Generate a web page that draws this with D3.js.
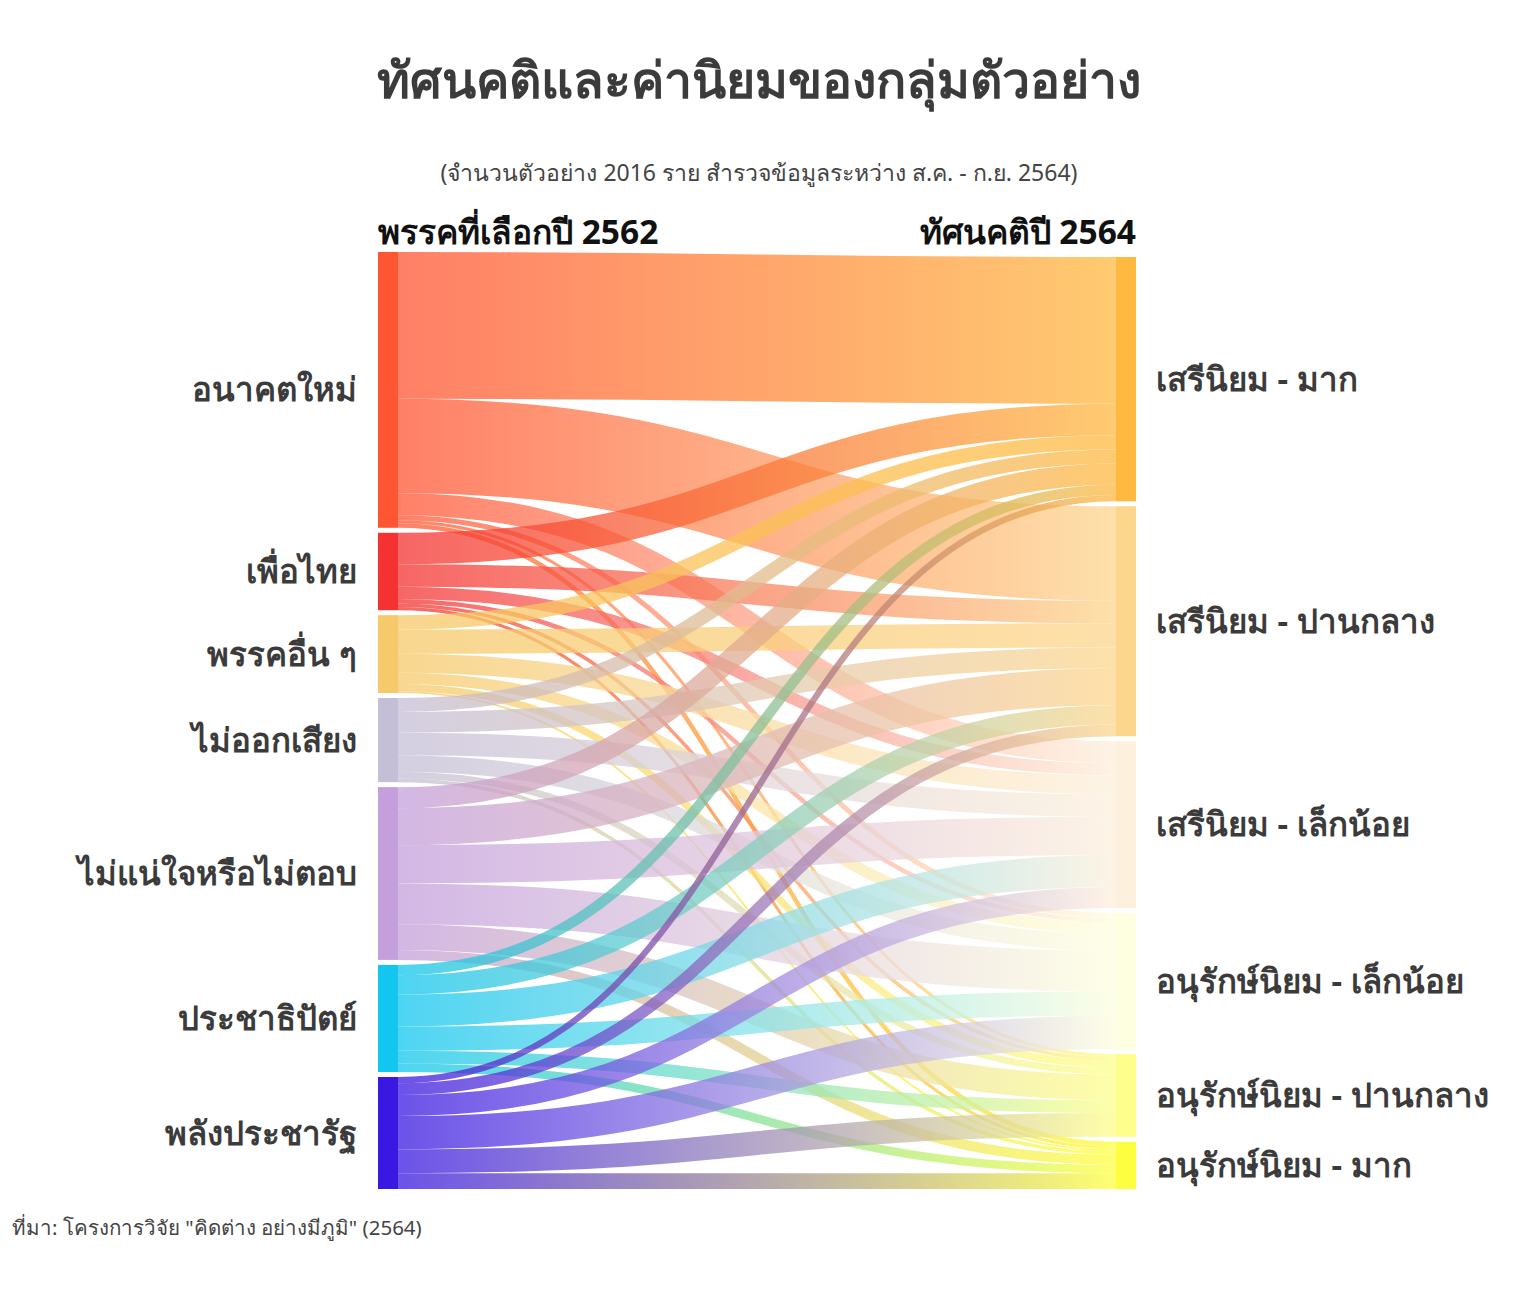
<!DOCTYPE html>
<html>
<head>
<meta charset="utf-8">
<script src="https://cdn.jsdelivr.net/npm/d3@7"></script>
<style>
  body { margin: 0; background: #fff; }
  text { font-family: "Noto Sans", "Open Sans", sans-serif; }
</style>
</head>
<body>
<div id="chart"></div>
<script>
// Width and height
var chart_width  = 1519;
var chart_height = 1306;

// Left column: party chosen in 2562
var parties = ['อนาคตใหม่', 'เพื่อไทย', 'พรรคอื่น ๆ', 'ไม่ออกเสียง',
               'ไม่แน่ใจหรือไม่ตอบ', 'ประชาธิปัตย์', 'พลังประชารัฐ'];
var party_colors = ['#ff5533', '#f43232', '#f6c96a', '#c5bed7',
                    '#c49fdc', '#12c6ef', '#3a18e2'];

// Right column: attitude in 2564
var attitudes = ['เสรีนิยม - มาก', 'เสรีนิยม - ปานกลาง', 'เสรีนิยม - เล็กน้อย',
                 'อนุรักษ์นิยม - เล็กน้อย', 'อนุรักษ์นิยม - ปานกลาง', 'อนุรักษ์นิยม - มาก'];
var attitude_colors = ['#ffb941', '#fdd68d', '#fdf0dd', '#fefee0', '#fefe8c', '#fefe40'];

// people per party (rows) to each attitude (columns)
var flow_anakot   = [326, 210, 49, 11, 7, 10];
var flow_pheuthai = [70, 50, 27, 10, 8, 7];
var flow_other    = [32, 54, 42, 25, 16, 4];
var flow_novote   = [31, 46, 50, 37, 15, 8];
var flow_unsure   = [47, 82, 85, 91, 57, 22];
var flow_democrat = [23, 43, 71, 54, 28, 19];
var flow_pprp     = [14, 26, 47, 74, 53, 35];
var flows = [flow_anakot, flow_pheuthai, flow_other, flow_novote,
             flow_unsure, flow_democrat, flow_pprp];

var top_y = 252, bottom_y = 1189;
var left_x = 378, right_x = 1116, node_w = 20, node_pad = 5;

var party_total = flows.map(function(r){ return d3.sum(r); });
var attitude_total = attitudes.map(function(a, j){
    return d3.sum(flows, function(r){ return r[j]; });
});
var grand = d3.sum(party_total);

var k = d3.scaleLinear()
    .domain([0, grand])
    .range([0, (bottom_y - top_y) - node_pad * (parties.length - 1)]);

var leftColor = d3.scaleOrdinal().domain(parties).range(party_colors);
var rightColor = d3.scaleOrdinal().domain(attitudes).range(attitude_colors);

// node positions
var left_nodes = [];
var y = top_y;
parties.forEach(function(p, i){
    var h = k(party_total[i]);
    left_nodes.push({name: p, y0: y, y1: y + h, off: y});
    y += h + node_pad;
});
var right_nodes = [];
var right_h = d3.sum(attitude_total, function(v){ return k(v); }) + node_pad * (attitudes.length - 1);
y = bottom_y - right_h;
attitudes.forEach(function(a, j){
    var h = k(attitude_total[j]);
    right_nodes.push({name: a, y0: y, y1: y + h, off: y});
    y += h + node_pad;
});

// links: source side ordered by target, target side ordered by source
var links = [];
parties.forEach(function(p, i){
    attitudes.forEach(function(a, j){
        var w = k(flows[i][j]);
        links.push({s: i, t: j, w: w, sy: left_nodes[i].off + w / 2});
        left_nodes[i].off += w;
    });
});
attitudes.forEach(function(a, j){
    parties.forEach(function(p, i){
        var l = links[i * attitudes.length + j];
        l.ty = right_nodes[j].off + l.w / 2;
        right_nodes[j].off += l.w;
    });
});

// Create SVG
var svg = d3.select('#chart')
    .append('svg')
    .attr('width', chart_width)
    .attr('height', chart_height);

var defs = svg.append('defs');
links.forEach(function(l, n){
    var g = defs.append('linearGradient')
        .attr('id', 'grad' + n)
        .attr('gradientUnits', 'userSpaceOnUse')
        .attr('x1', left_x + node_w).attr('x2', right_x)
        .attr('y1', 0).attr('y2', 0);
    g.append('stop').attr('offset', '0%').attr('stop-color', leftColor(parties[l.s]));
    g.append('stop').attr('offset', '100%').attr('stop-color', rightColor(attitudes[l.t]));
});

var linkPath = d3.linkHorizontal()
    .source(function(d){ return [left_x + node_w, d.sy]; })
    .target(function(d){ return [right_x, d.ty]; });

svg.append('g')
    .selectAll('path')
    .data(links)
    .enter()
    .append('path')
    .attr('d', linkPath)
    .attr('fill', 'none')
    .attr('stroke', function(d, n){ return 'url(#grad' + n + ')'; })
    .attr('stroke-opacity', 0.75)
    .attr('stroke-width', function(d){ return Math.max(1, d.w); });

// nodes
svg.append('g')
    .selectAll('rect')
    .data(left_nodes)
    .enter()
    .append('rect')
    .attr('x', left_x)
    .attr('y', function(d){ return d.y0; })
    .attr('width', node_w)
    .attr('height', function(d){ return d.y1 - d.y0; })
    .attr('fill', function(d){ return leftColor(d.name); });

svg.append('g')
    .selectAll('rect')
    .data(right_nodes)
    .enter()
    .append('rect')
    .attr('x', right_x)
    .attr('y', function(d){ return d.y0; })
    .attr('width', node_w)
    .attr('height', function(d){ return d.y1 - d.y0; })
    .attr('fill', function(d){ return rightColor(d.name); });

// node labels
svg.append('g')
    .selectAll('text')
    .data(left_nodes)
    .enter()
    .append('text')
    .attr('x', left_x - 21)
    .attr('y', function(d){ return (d.y0 + d.y1) / 2; })
    .attr('dy', '0.35em')
    .attr('text-anchor', 'end')
    .attr('font-size', 33)
    .attr('font-weight', 'bold')
    .attr('fill', '#3b3b3b')
    .text(function(d){ return d.name; });

svg.append('g')
    .selectAll('text')
    .data(right_nodes)
    .enter()
    .append('text')
    .attr('x', right_x + node_w + 20)
    .attr('y', function(d){ return (d.y0 + d.y1) / 2; })
    .attr('dy', '0.35em')
    .attr('font-size', 33)
    .attr('font-weight', 'bold')
    .attr('fill', '#3b3b3b')
    .text(function(d){ return d.name; });

// headers
svg.append('text')
    .attr('x', left_x).attr('y', 244)
    .attr('font-size', 33.5).attr('font-weight', 'bold').attr('fill', '#111')
    .text('พรรคที่เลือกปี 2562');
svg.append('text')
    .attr('x', right_x + node_w).attr('y', 244)
    .attr('text-anchor', 'end')
    .attr('font-size', 33.5).attr('font-weight', 'bold').attr('fill', '#111')
    .text('ทัศนคติปี 2564');

// title
svg.append('text')
    .attr('x', 759).attr('y', 98)
    .attr('text-anchor', 'middle')
    .attr('font-size', 50).attr('font-weight', 'bold').attr('fill', '#3b3b3b')
    .text('ทัศนคติและค่านิยมของกลุ่มตัวอย่าง');
svg.append('text')
    .attr('x', 759).attr('y', 181)
    .attr('text-anchor', 'middle')
    .attr('font-size', 23).attr('fill', '#444')
    .text('(จำนวนตัวอย่าง 2016 ราย สำรวจข้อมูลระหว่าง ส.ค. - ก.ย. 2564)');

// source
svg.append('text')
    .attr('x', 12).attr('y', 1235)
    .attr('font-size', 20.5).attr('fill', '#444')
    .text('ที่มา: โครงการวิจัย "คิดต่าง อย่างมีภูมิ" (2564)');
</script>
</body>
</html>
